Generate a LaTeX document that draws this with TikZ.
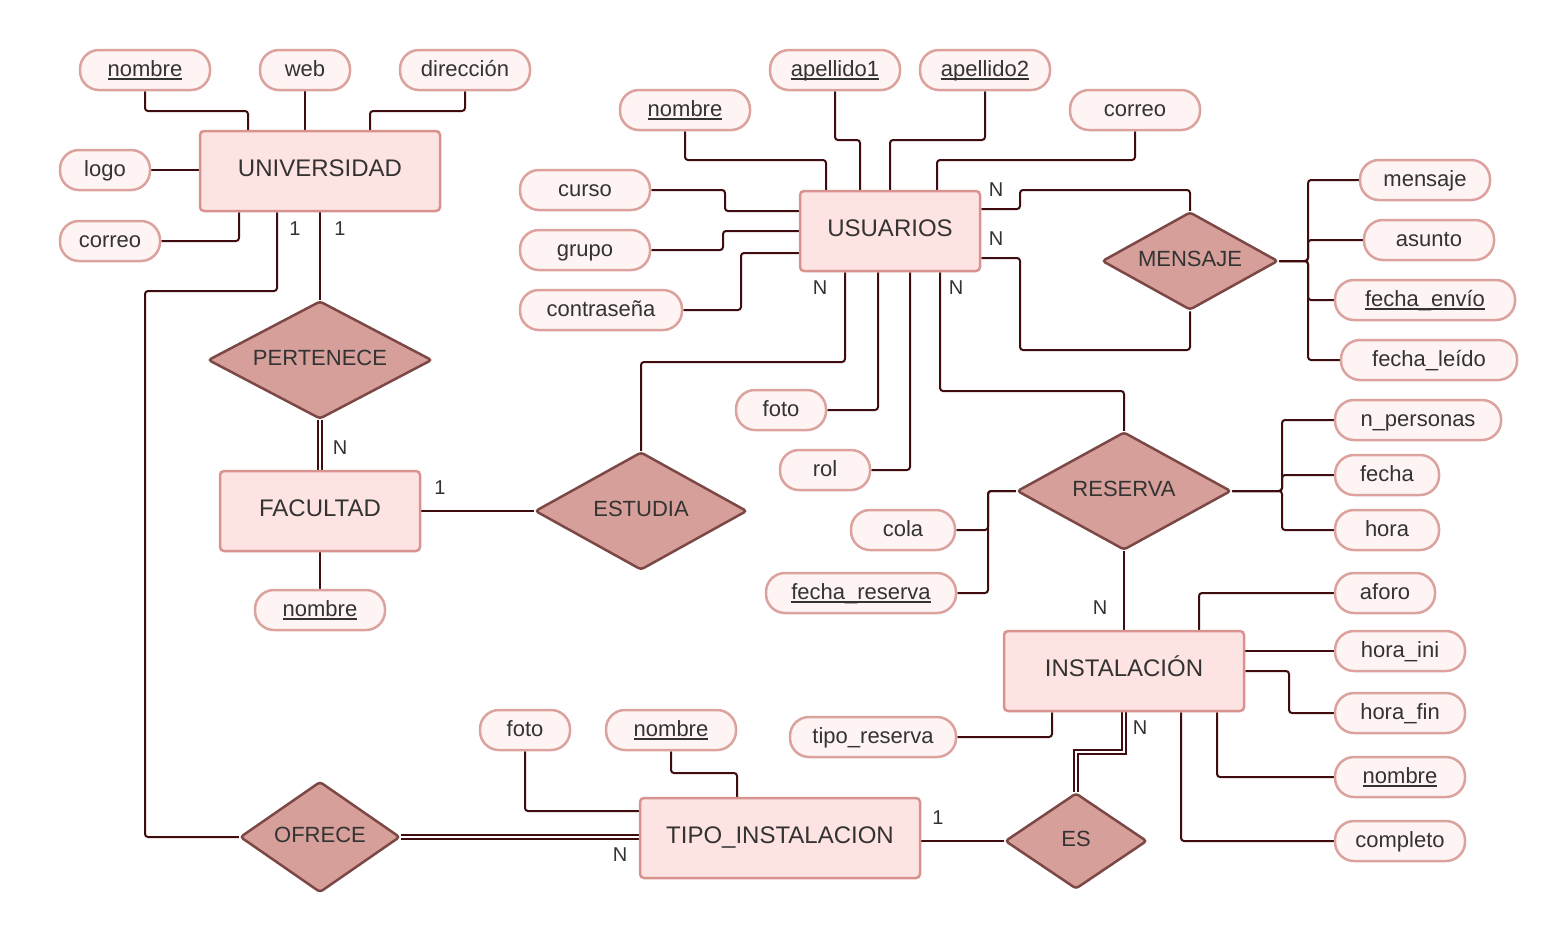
\documentclass[tikz,border=0pt]{standalone}
\usepackage{fontspec}
\setmainfont{Liberation Sans}
\usetikzlibrary{shapes.geometric,backgrounds}
\definecolor{entF}{HTML}{FDE3E1}
\definecolor{entB}{HTML}{D9938F}
\definecolor{attF}{HTML}{FEF4F3}
\definecolor{attB}{HTML}{DCA29E}
\definecolor{relF}{HTML}{D69F9A}
\definecolor{relB}{HTML}{7B4846}
\definecolor{lineC}{HTML}{3F0D0F}
\definecolor{txt}{HTML}{333333}
\newcommand{\ulkey}[1]{\setbox0\hbox{#1}\rlap{\smash{\rule[-3.5pt]{\wd0}{1.6pt}}}\box0}
\tikzset{
  ent/.style={rectangle, rounded corners=4pt, draw=entB, fill=entF, line width=2.5pt,
    minimum height=80, inner sep=0pt, text height=11pt, text depth=0pt,
    text=txt, font=\fontsize{24}{28}\selectfont},
  att/.style={rectangle, rounded corners=19pt, draw=attB, fill=attF, line width=2.5pt,
    minimum height=40, inner sep=0pt, text height=12pt, text depth=0pt,
    text=txt, font=\fontsize{22}{26}\selectfont},
  rel/.style={diamond, aspect=2, draw=relB, fill=relF, line width=2.5pt, rounded corners=3pt,
    inner sep=0pt, text height=10pt, text depth=0pt,
    text=txt, font=\fontsize{22}{26}\selectfont},
  conn/.style={draw=lineC, line width=2pt, rounded corners=3pt},
  dbl/.style={draw=lineC, line width=1.3pt, double=white, double distance=2.5pt},
  card/.style={text=txt, font=\fontsize{20}{24}\selectfont, inner sep=0pt},
}
\begin{document}
\begin{tikzpicture}[x=1pt,y=-1pt]
\useasboundingbox (0,0) rectangle (1562,951);

% entities
\node[ent, minimum width=240] (univ) at (320,171) {UNIVERSIDAD};
\node[ent, minimum width=200] (fac) at (320,511) {FACULTAD};
\node[ent, minimum width=180] (usu) at (890,231) {USUARIOS};
\node[ent, minimum width=240] (inst) at (1124,671) {INSTALACIÓN};
\node[ent, minimum width=280] (tipo) at (780,838) {TIPO\_INSTALACION};

% relationships
\node[rel, minimum width=224, minimum height=118] (pert) at (320,360) {PERTENECE};
\node[rel, minimum width=212, minimum height=118] (est) at (641,511) {ESTUDIA};
\node[rel, minimum width=176, minimum height=98] (men) at (1190,261) {MENSAJE};
\node[rel, minimum width=214, minimum height=118] (res) at (1124,491) {RESERVA};
\node[rel, minimum width=142, minimum height=96] (es) at (1076,841) {ES};
\node[rel, minimum width=160, minimum height=111] (ofr) at (320,837) {OFRECE};

% attributes UNIVERSIDAD
\node[att, minimum width=130] (unom) at (145,70) {\ulkey{nombre}};
\node[att, minimum width=90] (uweb) at (305,70) {web};
\node[att, minimum width=130] (udir) at (465,70) {dirección};
\node[att, minimum width=90] (ulogo) at (105,170) {logo};
\node[att, minimum width=100] (ucor) at (110,241) {correo};
% FACULTAD
\node[att, minimum width=130] (fnom) at (320,610) {\ulkey{nombre}};
% USUARIOS
\node[att, minimum width=130] (snom) at (685,110) {\ulkey{nombre}};
\node[att, minimum width=130] (ap1) at (835,70) {\ulkey{apellido1}};
\node[att, minimum width=130] (ap2) at (985,70) {\ulkey{apellido2}};
\node[att, minimum width=130] (scor) at (1135,110) {correo};
\node[att, minimum width=130] (curso) at (585,190) {curso};
\node[att, minimum width=130] (grupo) at (585,250) {grupo};
\node[att, minimum width=162] (contra) at (601,310) {contraseña};
\node[att, minimum width=90] (sfoto) at (781,410) {foto};
\node[att, minimum width=90] (rol) at (825,470) {rol};
% MENSAJE
\node[att, minimum width=130] (mmen) at (1425,180) {mensaje};
\node[att, minimum width=130] (masu) at (1429,240) {asunto};
\node[att, minimum width=180] (menv) at (1425,300) {\ulkey{fecha\_envío}};
\node[att, minimum width=176] (mlei) at (1429,360) {fecha\_leído};
% RESERVA
\node[att, minimum width=166] (rnp) at (1418,420) {n\_personas};
\node[att, minimum width=104] (rfec) at (1387,475) {fecha};
\node[att, minimum width=104] (rhor) at (1387,530) {hora};
\node[att, minimum width=104] (rcola) at (903,530) {cola};
\node[att, minimum width=190] (rfres) at (861,593) {\ulkey{fecha\_reserva}};
% INSTALACION
\node[att, minimum width=100] (iafo) at (1385,593) {aforo};
\node[att, minimum width=130] (iini) at (1400,651) {hora\_ini};
\node[att, minimum width=130] (ifin) at (1400,713) {hora\_fin};
\node[att, minimum width=130] (inom) at (1400,777) {\ulkey{nombre}};
\node[att, minimum width=130] (icomp) at (1400,841) {completo};
\node[att, minimum width=166] (itres) at (873,737) {tipo\_reserva};
% TIPO_INSTALACION
\node[att, minimum width=90] (tfoto) at (525,730) {foto};
\node[att, minimum width=130] (tnom) at (671,730) {\ulkey{nombre}};

% ---------- connectors (behind nodes) ----------
\begin{scope}[on background layer]
\fill[white] (0,0) rectangle (1562,951);
\draw[conn] (unom.south) -- (145,111) -| ([xshift=-72pt]univ.north);
\draw[conn] (uweb.south) -- (uweb.south |- univ.north);
\draw[conn] (udir.south) -- (465,111) -| ([xshift=50pt]univ.north);
\draw[conn] (ulogo.east) -- (ulogo.east -| univ.west);
\draw[conn] (ucor.east) -| ([xshift=-81pt]univ.south);
\draw[conn] ([xshift=-43pt]univ.south) |- (145,291) |- (ofr.west);
\draw[conn] (univ.south) -- (pert.north);
\draw[dbl] (pert.south) -- (fac.north);
\draw[conn] (fac.south) -- (fnom.north);
\draw[conn] (fac.east) -- (est.west);
\draw[conn] (est.north) -- (641,362) -| ([xshift=-45pt]usu.south);

\draw[conn] (snom.south) -- (685,160) -| ([xshift=-64pt]usu.north);
\draw[conn] (ap1.south) -- (835,140) -| ([xshift=-30pt]usu.north);
\draw[conn] (ap2.south) -- (985,140) -| (usu.north);
\draw[conn] (scor.south) -- (1135,160) -| ([xshift=47pt]usu.north);
\draw[conn] (curso.east) -- (725,190) |- ([yshift=20pt]usu.west);
\draw[conn] (grupo.east) -- (723,250) |- (usu.west);
\draw[conn] (contra.east) -- (741,310) |- ([yshift=-22pt]usu.west);
\draw[conn] (sfoto.east) -| ([xshift=-12pt]usu.south);
\draw[conn] (rol.east) -| ([xshift=20pt]usu.south);
\draw[conn] ([xshift=50pt]usu.south) -- (940,391) -| (res.north);
\draw[conn] ([yshift=22pt]usu.east) -- (1020,209) |- (1190,190) -- (men.north);
\draw[conn] ([yshift=-27pt]usu.east) -- (1020,258) |- (1190,350) -- (men.south);

\draw[conn] (men.east) -- (1308,261) |- (mmen.west);
\draw[conn] (men.east) -- (1308,261) |- (masu.west);
\draw[conn] (men.east) -- (1308,261) |- (menv.west);
\draw[conn] (men.east) -- (1308,261) |- (mlei.west);

\draw[conn] (res.east) -- (1282,491) |- (rnp.west);
\draw[conn] (res.east) -- (1282,491) |- (rfec.west);
\draw[conn] (res.east) -- (1282,491) |- (rhor.west);
\draw[conn] (res.west) -- (988,491) |- (rcola.east);
\draw[conn] (res.west) -- (988,491) |- (rfres.east);
\draw[conn] (res.south) -- (inst.north);

\draw[conn] ([xshift=75pt]inst.north) |- (iafo.west);
\draw[conn] ([yshift=20pt]inst.east) -- (iini.west);
\draw[conn] (inst.east) -- (1289,671) |- (ifin.west);
\draw[conn] ([xshift=93pt]inst.south) |- (inom.west);
\draw[conn] ([xshift=57pt]inst.south) |- (icomp.west);
\draw[conn] (itres.east) -| ([xshift=-72pt]inst.south);
\draw[dbl] (inst.south) -- (1124,752) -| (es.north);

\draw[conn] (tipo.east |- es.west) -- (es.west);
\draw[conn] (tfoto.south) |- ([yshift=27pt]tipo.west);
\draw[conn] (tnom.south) -- (671,773) -| ([xshift=-43pt]tipo.north);
\draw[dbl] (ofr.east) -- (ofr.east -| tipo.west);
\end{scope}

% ---------- cardinalities ----------
\node[card] (c1) at (295,229) {1};
\node[card] (c2) at (340,229) {1};
\node[card] (c3) at (340,448) {N};
\node[card] (c4) at (440,488) {1};
\node[card] (c5) at (820,288) {N};
\node[card] (c6) at (956,288) {N};
\node[card] (c7) at (996,190) {N};
\node[card] (c8) at (996,239) {N};
\node[card] (c9) at (1100,608) {N};
\node[card] (c10) at (1140,728) {N};
\node[card] (c11) at (938,818) {1};
\node[card] (c12) at (620,855) {N};
\end{tikzpicture}
\end{document}
